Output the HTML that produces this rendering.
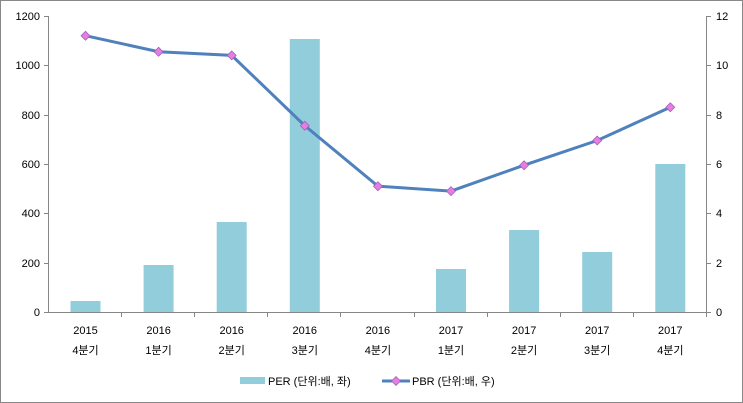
<!DOCTYPE html><html><head><meta charset="utf-8"><style>body{margin:0;background:#fff}svg{display:block}text{font-family:"Liberation Sans","Noto Sans CJK KR",sans-serif;font-size:11px;fill:#000}</style></head><body>
<svg width="743" height="403" xmlns="http://www.w3.org/2000/svg">
<rect x="0.5" y="0.5" width="742" height="402" fill="#fff" stroke="#888"/>
<g stroke="#868686" stroke-width="1">
<line x1="48.5" y1="16" x2="48.5" y2="313"/><line x1="706.5" y1="16" x2="706.5" y2="313"/>
<line x1="48" y1="312.5" x2="707" y2="312.5"/>
<g>
<line x1="44" y1="16.5" x2="48" y2="16.5"/><line x1="44" y1="65.5" x2="48" y2="65.5"/><line x1="44" y1="115.5" x2="48" y2="115.5"/><line x1="44" y1="164.5" x2="48" y2="164.5"/><line x1="44" y1="213.5" x2="48" y2="213.5"/><line x1="44" y1="263.5" x2="48" y2="263.5"/><line x1="44" y1="312.5" x2="48" y2="312.5"/>
<line x1="707" y1="16.5" x2="711" y2="16.5"/><line x1="707" y1="65.5" x2="711" y2="65.5"/><line x1="707" y1="115.5" x2="711" y2="115.5"/><line x1="707" y1="164.5" x2="711" y2="164.5"/><line x1="707" y1="213.5" x2="711" y2="213.5"/><line x1="707" y1="263.5" x2="711" y2="263.5"/><line x1="707" y1="312.5" x2="711" y2="312.5"/>
<line x1="121.5" y1="312" x2="121.5" y2="317"/><line x1="194.5" y1="312" x2="194.5" y2="317"/><line x1="267.5" y1="312" x2="267.5" y2="317"/><line x1="340.5" y1="312" x2="340.5" y2="317"/><line x1="414.5" y1="312" x2="414.5" y2="317"/><line x1="487.5" y1="312" x2="487.5" y2="317"/><line x1="560.5" y1="312" x2="560.5" y2="317"/><line x1="633.5" y1="312" x2="633.5" y2="317"/><line x1="706.5" y1="312" x2="706.5" y2="317"/>
</g></g>
<g text-anchor="end"><text x="40" y="20">1200</text><text x="40" y="69">1000</text><text x="40" y="119">800</text><text x="40" y="168">600</text><text x="40" y="217">400</text><text x="40" y="267">200</text><text x="40" y="316">0</text></g>
<g><text x="716" y="20">12</text><text x="716" y="69">10</text><text x="716" y="119">8</text><text x="716" y="168">6</text><text x="716" y="217">4</text><text x="716" y="267">2</text><text x="716" y="316">0</text></g>
<g fill="#92CDDC">
<rect x="70.5" y="301" width="30" height="11"/><rect x="143.6" y="265" width="30" height="47"/><rect x="216.7" y="222" width="30" height="90"/><rect x="289.8" y="39" width="30" height="273"/><rect x="436" y="269" width="30" height="43"/><rect x="509.1" y="230" width="30" height="82"/><rect x="582.2" y="252" width="30" height="60"/><rect x="655.3" y="164" width="30" height="148"/>
</g>
<polyline fill="none" stroke="#4F81BD" stroke-width="3" points="85.5,35.7 158.6,51.7 231.7,55.4 304.8,125.7 377.9,186.2 451,191.1 524.1,165.2 597.2,140.5 670.3,107.2"/>
<g fill="#E47EE0" stroke="#9B59B6" stroke-width="0.7">
<path d="M85.5 31.2l4.5 4.5-4.5 4.5-4.5-4.5z"/><path d="M158.6 47.2l4.5 4.5-4.5 4.5-4.5-4.5z"/><path d="M231.7 50.9l4.5 4.5-4.5 4.5-4.5-4.5z"/><path d="M304.8 121.2l4.5 4.5-4.5 4.5-4.5-4.5z"/><path d="M377.9 181.7l4.5 4.5-4.5 4.5-4.5-4.5z"/><path d="M451 186.6l4.5 4.5-4.5 4.5-4.5-4.5z"/><path d="M524.1 160.7l4.5 4.5-4.5 4.5-4.5-4.5z"/><path d="M597.2 136l4.5 4.5-4.5 4.5-4.5-4.5z"/><path d="M670.3 102.7l4.5 4.5-4.5 4.5-4.5-4.5z"/>
</g>
<g text-anchor="middle">
<text x="85.5" y="334">2015</text><text x="85.5" y="354">4분기</text>
<text x="158.6" y="334">2016</text><text x="158.6" y="354">1분기</text>
<text x="231.7" y="334">2016</text><text x="231.7" y="354">2분기</text>
<text x="304.8" y="334">2016</text><text x="304.8" y="354">3분기</text>
<text x="377.9" y="334">2016</text><text x="377.9" y="354">4분기</text>
<text x="451" y="334">2017</text><text x="451" y="354">1분기</text>
<text x="524.1" y="334">2017</text><text x="524.1" y="354">2분기</text>
<text x="597.2" y="334">2017</text><text x="597.2" y="354">3분기</text>
<text x="670.3" y="334">2017</text><text x="670.3" y="354">4분기</text>
</g>
<rect x="240" y="377" width="25" height="7" fill="#92CDDC"/>
<text x="268" y="385">PER (단위:배, 좌)</text>
<line x1="382" y1="381" x2="410" y2="381" stroke="#4F81BD" stroke-width="3"/>
<path d="M396 376.5l4.5 4.5-4.5 4.5-4.5-4.5z" fill="#E47EE0" stroke="#9B59B6" stroke-width="0.7"/>
<text x="412" y="385">PBR (단위:배, 우)</text>
</svg></body></html>
